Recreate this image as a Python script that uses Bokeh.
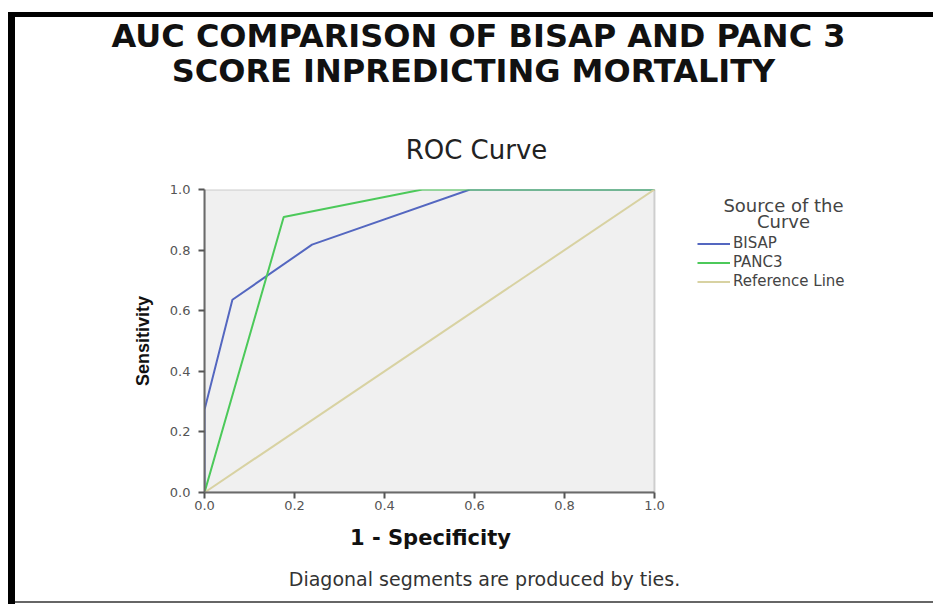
from bokeh.plotting import figure
from bokeh.models import (Range1d, FixedTicker, PrintfTickFormatter, Label,
                          Legend, LegendItem, BoxAnnotation, Div, Spacer)
from bokeh.layouts import column, row
from bokeh.embed import file_html
from bokeh.resources import INLINE

# ---- data ----
bisap_fpr = [0.0, 0.0, 0.062, 0.239, 0.59, 1.0]
bisap_tpr = [0.0, 0.273, 0.636, 0.818, 1.0, 1.0]
panc3_fpr = [0.0, 0.176, 0.484, 1.0]
panc3_tpr = [0.0, 0.909, 1.0, 1.0]
ref_fpr = [0.0, 1.0]
ref_tpr = [0.0, 1.0]
ticks = [0.0, 0.2, 0.4, 0.6, 0.8, 1.0]
series_names = ["BISAP", "PANC3", "Reference Line"]
heading = ["AUC COMPARISON OF BISAP AND PANC 3", "SCORE INPREDICTING MORTALITY"]

# ---- page geometry (page pixels) ----
X0 = 15                      # left edge of the figure column
W = 918                      # figure width
HEAD_TOP, HEAD_BOT = 17, 170
MAIN_BOT = 520
FOOT_BOT = 601
FRAME_L, FRAME_T, FRAME_B = 204, 189, 492
UNIT_X = 450                 # px for one unit on x


def no_align(f):
    try:
        f.frame_align = False
    except Exception:
        pass


def blank_fig(h):
    f = figure(width=W, height=h, output_backend="svg", toolbar_location=None,
               x_axis_type=None, y_axis_type=None,
               x_range=Range1d(0, 1), y_range=Range1d(0, 1),
               min_border=0, min_border_left=0, min_border_right=0,
               min_border_top=0, min_border_bottom=0)
    f.outline_line_color = None
    f.background_fill_color = "white"
    f.border_fill_color = "white"
    no_align(f)
    return f


def add_text(f, fig_left, fig_bottom, text, img_x, img_y, size,
             font="DejaVu Sans", style="normal", color="#222222"):
    # fig_left / fig_bottom: page position of the frame's bottom-left corner
    f.add_layout(Label(x=img_x - fig_left, y=fig_bottom - img_y,
                       x_units="screen", y_units="screen", text=text,
                       text_font=font, text_font_size=size,
                       text_font_style=style, text_color=color,
                       text_align="center", text_baseline="middle"))


# ---- header ----
head = blank_fig(HEAD_BOT - HEAD_TOP)
add_text(head, X0, HEAD_BOT, heading[0], 478, 35, "32px",
         "DejaVu Sans", "bold", "#111111")
add_text(head, X0, HEAD_BOT, heading[1], 473, 70, "32px",
         "DejaVu Sans", "bold", "#111111")
add_text(head, X0, HEAD_BOT, "ROC Curve", 476, 149, "26px", color="#222222")

# ---- main plot ----
H = MAIN_BOT - HEAD_BOT
FL = FRAME_L - X0
x_end = (W - FL) / UNIT_X
p = figure(width=W, height=H, output_backend="svg", toolbar_location=None,
           x_range=Range1d(0, x_end), y_range=Range1d(0, 1),
           min_border_left=FL, min_border_right=0,
           min_border_top=FRAME_T - HEAD_BOT,
           min_border_bottom=MAIN_BOT - FRAME_B)
no_align(p)
p.background_fill_color = "white"
p.border_fill_color = "white"
p.outline_line_color = None
p.xgrid.visible = False
p.ygrid.visible = False

p.add_layout(BoxAnnotation(left=0, right=1, bottom=0, top=1,
                           fill_color="#f0f0f0", fill_alpha=1,
                           line_color="#707070", line_width=2, level="underlay"))

for ax in (p.xaxis[0], p.yaxis[0]):
    ax.bounds = (0, 1)
    ax.ticker = FixedTicker(ticks=ticks)
    ax.formatter = PrintfTickFormatter(format="%.1f")
    ax.minor_tick_line_color = None
    ax.axis_line_color = "#6a6a6a"
    ax.axis_line_width = 2
    ax.major_tick_line_color = "#555555"
    ax.major_tick_line_width = 2
    ax.major_tick_out = 6
    ax.major_tick_in = 0
    ax.major_label_text_font = "DejaVu Sans"
    ax.major_label_text_font_size = "13px"
    ax.major_label_text_color = "#555555"

p.xaxis[0].major_label_standoff = 2
p.yaxis[0].major_label_standoff = 8
p.yaxis[0].axis_label = "Sensitivity"
p.yaxis[0].axis_label_text_font = "Liberation Sans"
p.yaxis[0].axis_label_text_font_style = "bold"
p.yaxis[0].axis_label_text_font_size = "18px"
p.yaxis[0].axis_label_text_color = "#111111"
p.yaxis[0].axis_label_standoff = 14

r_b = p.line(bisap_fpr, bisap_tpr, line_color="#5467c0", line_width=2)
r_p = p.line(panc3_fpr, panc3_tpr, line_color="#4cc95a", line_width=2)
r_r = p.line(ref_fpr, ref_tpr, line_color="#d8d2a2", line_width=2)

legend = Legend(items=[LegendItem(label=series_names[0], renderers=[r_b]),
                       LegendItem(label=series_names[1], renderers=[r_p]),
                       LegendItem(label=series_names[2], renderers=[r_r])],
                location=(697 - FRAME_L, FRAME_B - 290), background_fill_alpha=0,
                border_line_color=None, padding=0, margin=0, spacing=1,
                glyph_width=33, glyph_height=17, label_height=17,
                label_standoff=3, label_text_font="DejaVu Sans",
                label_text_font_size="15px", label_text_color="#444444")
p.add_layout(legend, "center")

add_text(p, FRAME_L, FRAME_B, "Source of the", 783, 205, "18px", color="#444444")
add_text(p, FRAME_L, FRAME_B, "Curve", 783, 221, "18px", color="#444444")

# ---- footer ----
foot = blank_fig(FOOT_BOT - MAIN_BOT)
add_text(foot, X0, FOOT_BOT, "1 - Specificity", 430, 537, "21px",
         "DejaVu Sans", "bold", "#111111")
add_text(foot, X0, FOOT_BOT, "Diagonal segments are produced by ties.",
         484, 578, "19px", color="#333333")

# ---- page frame lines ----
top_bar = Div(text="", width=W, height=5, margin=0,
              styles={"background-color": "black"})
bottom_bar = Div(text="", width=W, height=2, margin=0,
                 styles={"background-color": "#666666"})
left_bar = Div(text="", width=7, height=592, margin=0,
               styles={"background-color": "black"})
layout = column(Spacer(width=933, height=12, margin=0),
                row(Spacer(width=8, height=592, margin=0), left_bar,
                    column(top_bar, head, p, foot, bottom_bar, spacing=0),
                    spacing=0),
                spacing=0)

open("out.html", "w").write(file_html(layout, INLINE))
